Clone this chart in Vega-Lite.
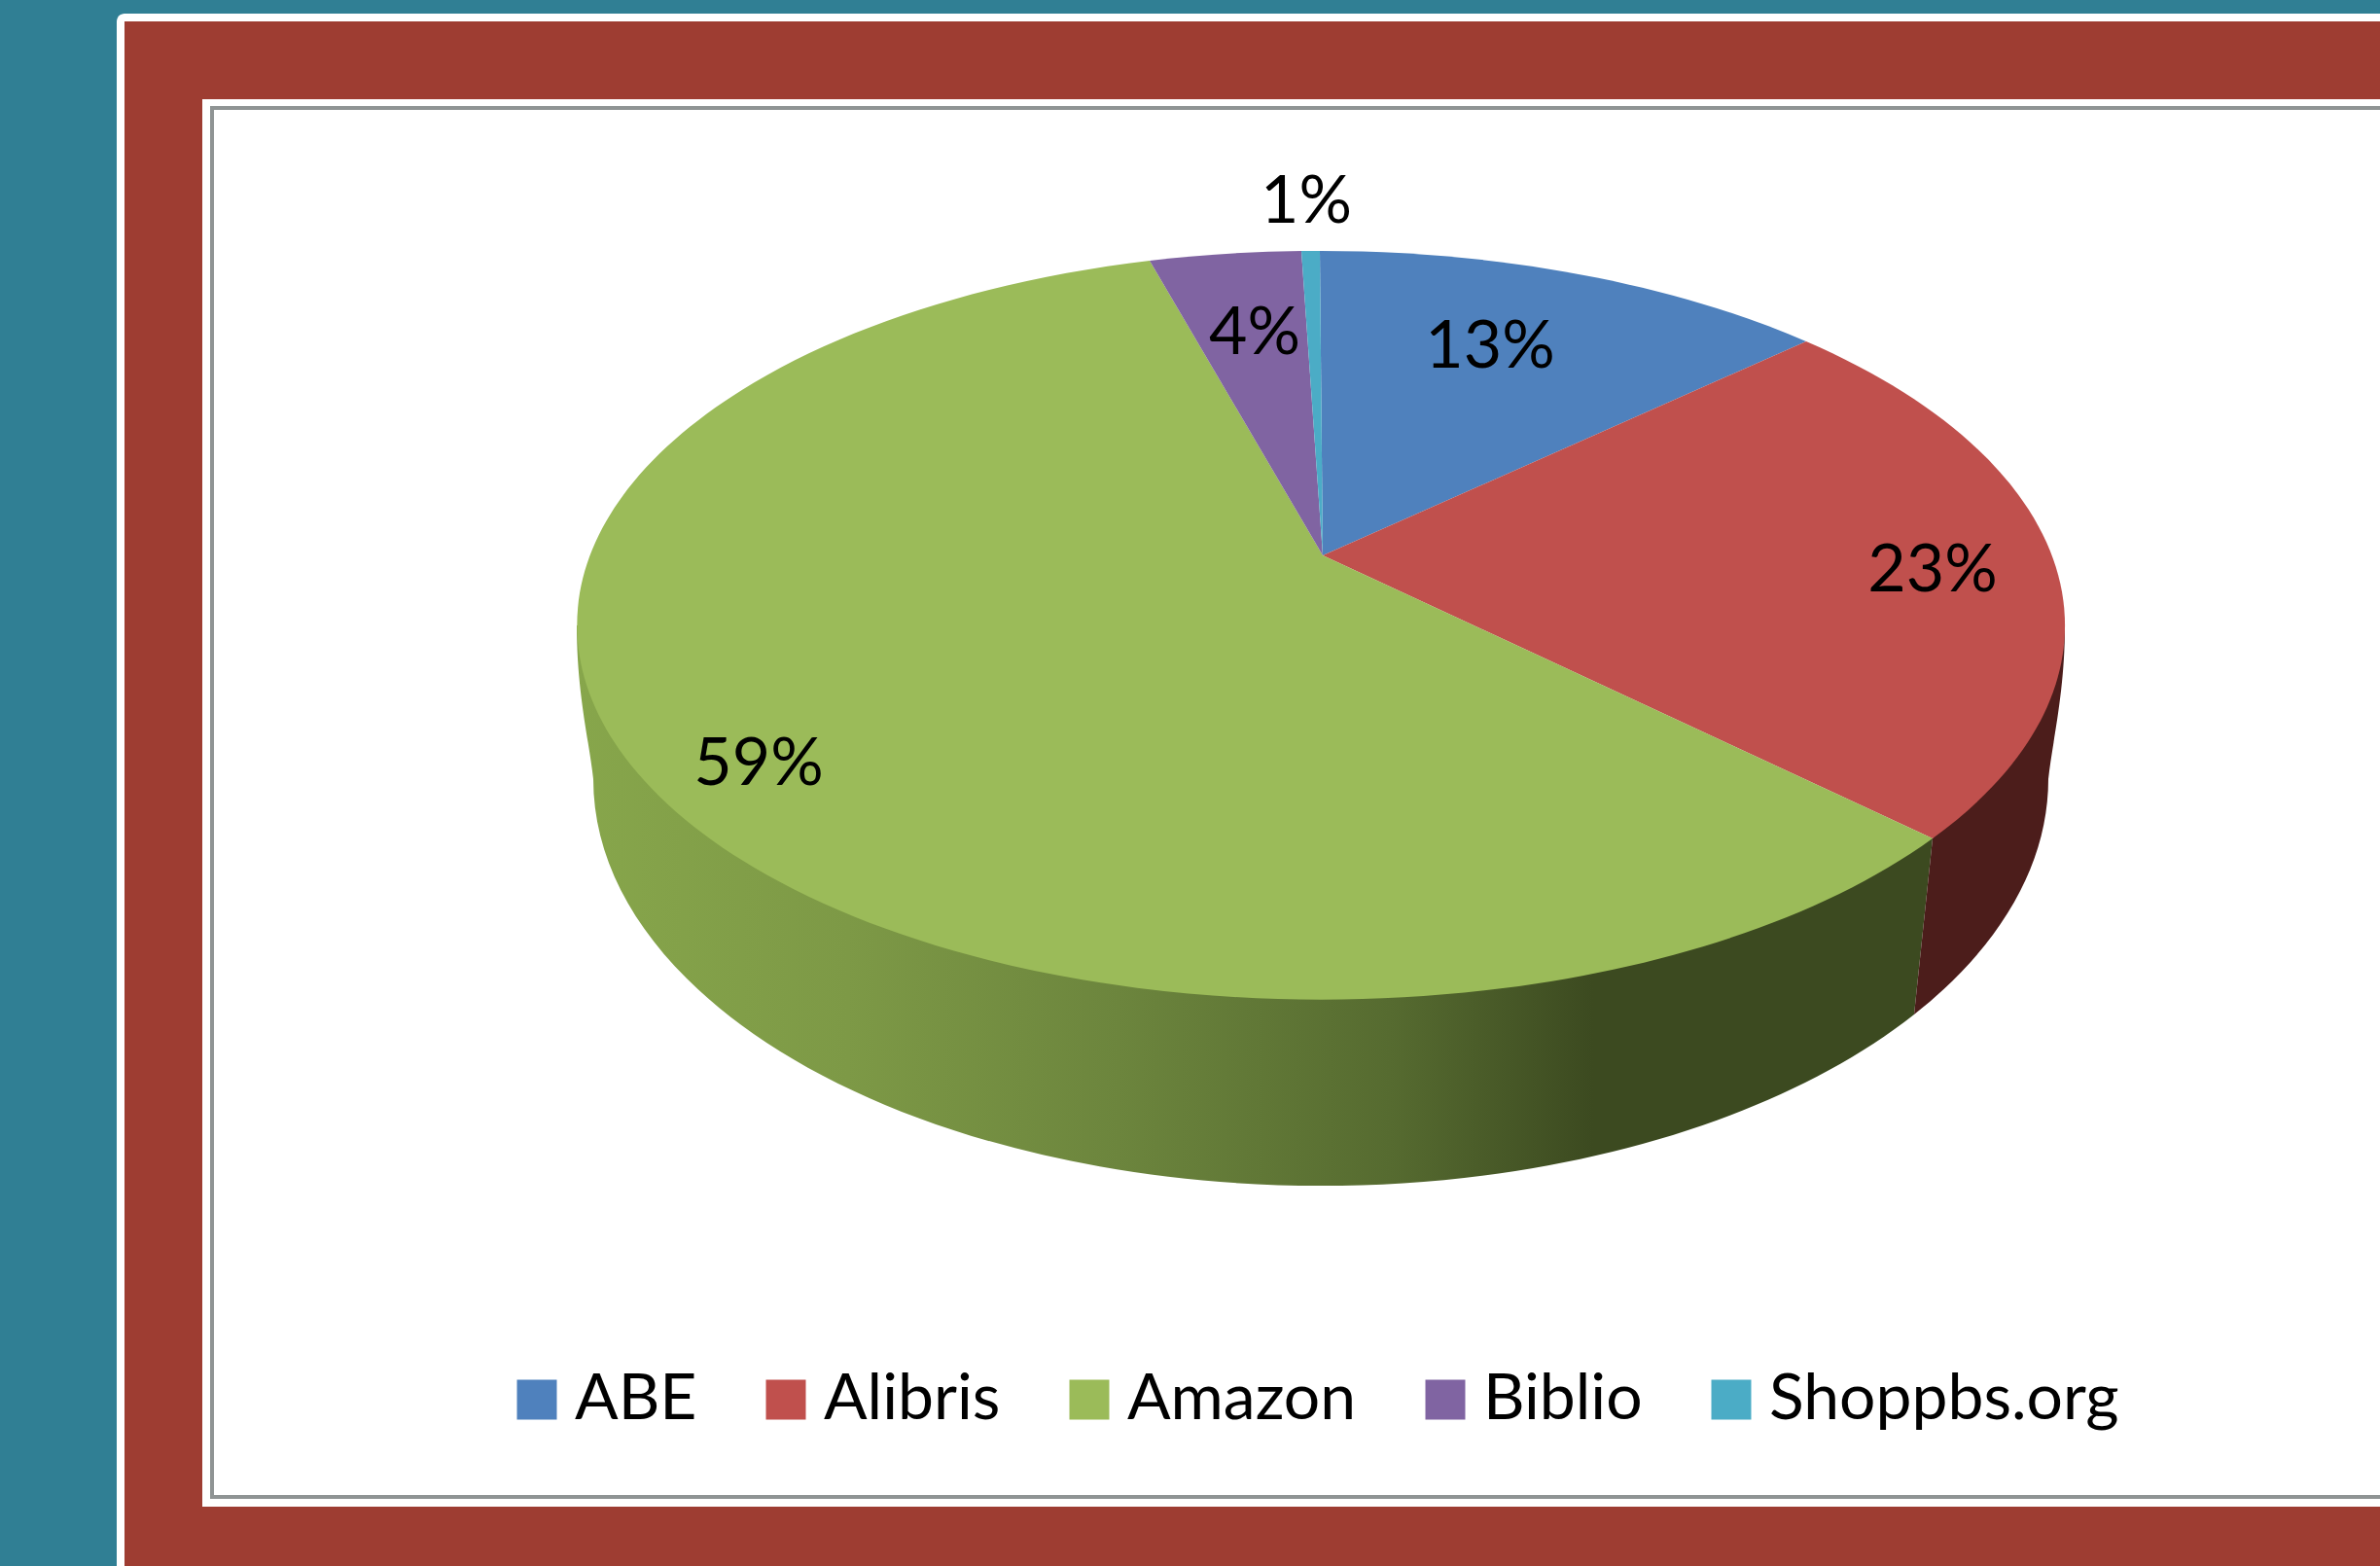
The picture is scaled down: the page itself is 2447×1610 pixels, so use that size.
{
"$schema":"https://vega.github.io/schema/vega-lite/v6.json",
"width":2447,"height":1610,"padding":0,"autosize":{"type":"none"},
"background":"#307f94",
"config":{"view":{"stroke":null},"axis":{"disable":true},"font":"Lato"},
"data":{"name":"shares","values":[
{"store":"ABE","share":0.13},
{"store":"Alibris","share":0.23},
{"store":"Amazon","share":0.59},
{"store":"Biblio","share":0.04},
{"store":"Shoppbs.org","share":0.01}
]},
"layer":[
{"data":{"values":[{}]},"mark":{"type":"rect","color":"#ffffff","cornerRadius":8},
 "encoding":{"x":{"datum":120,"type":"quantitative","scale":{"domain":[0,2447],"nice":false,"zero":false},"axis":null},"x2":{"datum":2480},
 "y":{"datum":14,"type":"quantitative","scale":{"domain":[0,1610],"reverse":true,"nice":false,"zero":false},"axis":null},"y2":{"datum":1660}}},
{"data":{"values":[{}]},"mark":{"type":"rect","color":"#9e3d32"},
 "encoding":{"x":{"datum":128,"type":"quantitative"},"x2":{"datum":2480},"y":{"datum":22,"type":"quantitative"},"y2":{"datum":1660}}},
{"data":{"values":[{}]},"mark":{"type":"rect","color":"#ffffff"},
 "encoding":{"x":{"datum":208,"type":"quantitative"},"x2":{"datum":2480},"y":{"datum":102,"type":"quantitative"},"y2":{"datum":1549}}},
{"data":{"values":[{}]},"mark":{"type":"rect","fillOpacity":0,"stroke":"#8f9494","strokeWidth":4},
 "encoding":{"x":{"datum":218,"type":"quantitative"},"x2":{"datum":2480},"y":{"datum":111,"type":"quantitative"},"y2":{"datum":1539}}},
{"transform":[{"filter":"datum.store==='Amazon'"}],
 "mark":{"type":"point","filled":true,"opacity":1,"size":4,"strokeWidth":0,
  "shape":"M-765,0 C-765,70 -752,120 -748,158 A748,418 0 0 0 610,400 L629,219 L0,0 Z",
  "color":{"gradient":"linear","x1":0,"y1":0,"x2":1,"y2":0,"stops":[
   {"offset":0,"color":"#87a64b"},{"offset":0.2,"color":"#7d9946"},{"offset":0.4,"color":"#6c853d"},{"offset":0.6,"color":"#566b30"},{"offset":0.75,"color":"#3c4a20"},{"offset":1,"color":"#3c4a20"}]}},
 "encoding":{"x":{"datum":1358,"type":"quantitative"},"y":{"datum":643,"type":"quantitative"}}},
{"transform":[{"filter":"datum.store==='Alibris'"}],
 "mark":{"type":"point","filled":true,"opacity":1,"size":4,"strokeWidth":0,"color":"#4c1d1b",
  "shape":"M629,219 L610,400 A748,418 0 0 0 748,158 C752,120 765,70 765,0 Z"},
 "encoding":{"x":{"datum":1358,"type":"quantitative"},"y":{"datum":643,"type":"quantitative"}}},
{"mark":{"type":"point","filled":true,"opacity":1,"size":4,"strokeWidth":0},
 "encoding":{"x":{"datum":1358,"type":"quantitative"},"y":{"datum":643,"type":"quantitative"},
  "shape":{"field":"store","type":"nominal","legend":null,"scale":{"domain":["Shoppbs.org","Biblio","Amazon","Alibris","ABE"],"range":[
   "M2,-72 L-20,-385 A765,385 0 0 1 -1,-385 Z",
   "M2,-72 L-176,-375 A765,385 0 0 1 -20,-385 Z",
   "M2,-72 L629,219 A765,385 0 1 1 -176,-375 Z",
   "M2,-72 L499,-292 A765,385 0 0 1 629,219 Z",
   "M2,-72 L-1,-385 A765,385 0 0 1 499,-292 Z"]}},
  "color":{"field":"store","type":"nominal","scale":{"domain":["ABE","Alibris","Amazon","Biblio","Shoppbs.org"],"range":["#4f81bd","#c0504d","#9bbb59","#8064a2","#4bacc6"]},
   "legend":{"title":null,"orient":"none","legendX":519,"legendY":1406,"direction":"horizontal","columns":5,"symbolType":"square","symbolSize":1680,"symbolStrokeWidth":0,"labelFont":"Lato","labelFontSize":66,"labelColor":"#000000","labelOffset":6,"columnPadding":58,"labelLimit":600}}}},
{"transform":[{"filter":"datum.store==='ABE'"}],"mark":{"type":"text","font":"Lato","fontSize":68,"color":"#000000","align":"center","baseline":"alphabetic"},
 "encoding":{"x":{"datum":1532,"type":"quantitative"},"y":{"datum":378,"type":"quantitative"},"text":{"field":"share","format":".0%"}}},
{"transform":[{"filter":"datum.store==='Alibris'"}],"mark":{"type":"text","font":"Lato","fontSize":68,"color":"#000000","align":"center","baseline":"alphabetic"},
 "encoding":{"x":{"datum":1987,"type":"quantitative"},"y":{"datum":608,"type":"quantitative"},"text":{"field":"share","format":".0%"}}},
{"transform":[{"filter":"datum.store==='Amazon'"}],"mark":{"type":"text","font":"Lato","fontSize":68,"color":"#000000","align":"center","baseline":"alphabetic"},
 "encoding":{"x":{"datum":780,"type":"quantitative"},"y":{"datum":807,"type":"quantitative"},"text":{"field":"share","format":".0%"}}},
{"transform":[{"filter":"datum.store==='Biblio'"}],"mark":{"type":"text","font":"Lato","fontSize":68,"color":"#000000","align":"center","baseline":"alphabetic"},
 "encoding":{"x":{"datum":1290,"type":"quantitative"},"y":{"datum":364,"type":"quantitative"},"text":{"field":"share","format":".0%"}}},
{"transform":[{"filter":"datum.store==='Shoppbs.org'"}],"mark":{"type":"text","font":"Lato","fontSize":68,"color":"#000000","align":"center","baseline":"alphabetic"},
 "encoding":{"x":{"datum":1343,"type":"quantitative"},"y":{"datum":229,"type":"quantitative"},"text":{"field":"share","format":".0%"}}}
]
}
